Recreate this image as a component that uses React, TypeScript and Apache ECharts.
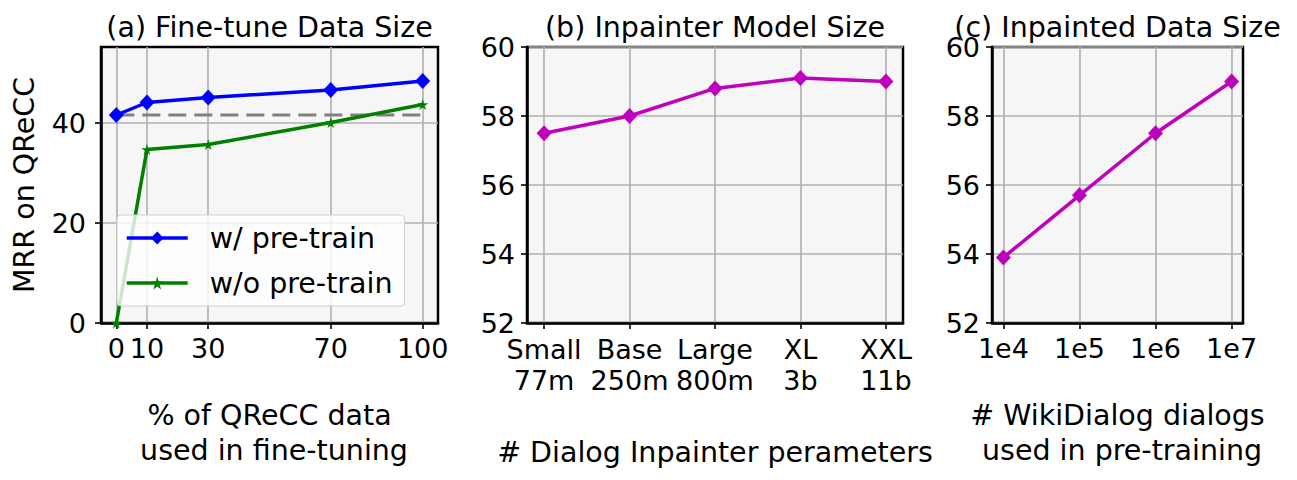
import React, { useEffect, useRef } from "react";
import * as echarts from "echarts";

// (a) Fine-tune data size
const finetunePct = [0, 10, 30, 70, 100];
const withPretrain = [41.6, 44.1, 45.1, 46.6, 48.4];
const withoutPretrain = [0, 34.7, 35.7, 40.1, 43.7];
const baselineLevel = 41.6;
const aYTicks = [0, 20, 40];

// (b) Inpainter model size
const modelSizes = ["Small", "Base", "Large", "XL", "XXL"];
const modelParams = ["77m", "250m", "800m", "3b", "11b"];
const modelMRR = [57.5, 58.0, 58.8, 59.1, 59.0];

// (c) Inpainted data size
const dialogCounts = [1e4, 1e5, 1e6, 1e7];
const dialogLabels = ["1e4", "1e5", "1e6", "1e7"];
const dialogMRR = [53.9, 55.7, 57.5, 59.0];

const FONT = "DejaVu Sans";
const TICK_FS = 27;
const LABEL_FS = 28.5;
const STAR =
  "path://M50,0 L61,35 L98,35 L68,57 L79,91 L50,70 L21,91 L32,57 L2,35 L39,35 Z";

export default function App() {
  const ref = useRef<HTMLDivElement>(null);
  useEffect(() => {
    if (!ref.current) return;
    const chart = echarts.init(ref.current, undefined, { renderer: "svg" });

    const gridBase = {
      show: true,
      backgroundColor: "#f6f6f6",
      borderColor: "#000",
      borderWidth: 2.5,
      containLabel: false,
    };
    const grids = [
      { ...gridBase, left: 101, top: 47, width: 337, height: 276 },
      { ...gridBase, left: 527, top: 47, width: 376, height: 276 },
      { ...gridBase, left: 992, top: 47, width: 251, height: 276 },
    ];

    const axisCommon = {
      axisLine: { show: true, onZero: false, lineStyle: { color: "#000", width: 2.5 } },
      axisTick: { show: true, inside: false, length: 6, lineStyle: { color: "#000", width: 1.6 } },
      splitLine: { show: true, lineStyle: { color: "#b0b0b0", width: 1.6 } },
    };
    const labelCommon = {
      color: "#000",
      fontFamily: FONT,
      fontSize: TICK_FS,
    };

    const modelIdx = modelSizes.map((_, i) => i);
    const dialogExp = dialogCounts.map((c) => Math.log10(c));

    const xAxes = [
      {
        gridIndex: 0,
        type: "value",
        min: -5,
        max: 105,
        ...axisCommon,
        axisTick: { ...axisCommon.axisTick, customValues: finetunePct },
        axisLabel: { ...labelCommon, margin: 12, customValues: finetunePct },
      },
      {
        gridIndex: 1,
        type: "value",
        min: -0.2,
        max: 4.2,
        ...axisCommon,
        axisTick: { ...axisCommon.axisTick, customValues: modelIdx },
        axisLabel: {
          ...labelCommon,
          margin: 11,
          lineHeight: 31,
          customValues: modelIdx,
          formatter: (v: number) => {
            const i = Math.round(v);
            return modelSizes[i] + "\n" + modelParams[i];
          },
        },
      },
      {
        gridIndex: 2,
        type: "value",
        min: 3.85,
        max: 7.15,
        ...axisCommon,
        axisTick: { ...axisCommon.axisTick, customValues: dialogExp },
        axisLabel: {
          ...labelCommon,
          margin: 12,
          customValues: dialogExp,
          formatter: (v: number) => dialogLabels[dialogExp.findIndex((e) => Math.abs(e - v) < 1e-6)] ?? "",
        },
      },
    ];

    const yAxes = [
      {
        gridIndex: 0,
        type: "value",
        min: 0,
        max: 55.2,
        ...axisCommon,
        axisTick: { ...axisCommon.axisTick, customValues: aYTicks },
        axisLabel: { ...labelCommon, margin: 15, customValues: aYTicks },
        name: "MRR on QReCC",
        nameLocation: "middle",
        nameGap: 62,
        nameTextStyle: { color: "#000", fontFamily: FONT, fontSize: LABEL_FS },
      },
      {
        gridIndex: 1,
        type: "value",
        min: 52,
        max: 60,
        interval: 2,
        ...axisCommon,
        axisLabel: { ...labelCommon, margin: 12 },
      },
      {
        gridIndex: 2,
        type: "value",
        min: 52,
        max: 60,
        interval: 2,
        ...axisCommon,
        axisLabel: { ...labelCommon, margin: 12 },
      },
    ];

    const title = (text: string, x: number) => ({
      type: "text",
      x,
      y: 27,
      style: {
        text,
        fill: "#000",
        font: `${LABEL_FS}px "${FONT}"`,
        textAlign: "center",
        textVerticalAlign: "middle",
      },
    });
    const xlabel = (text: string, x: number, y: number) => ({
      type: "text",
      x,
      y,
      style: {
        text,
        fill: "#000",
        font: `${LABEL_FS}px "${FONT}"`,
        lineHeight: 35,
        textAlign: "center",
        textVerticalAlign: "middle",
      },
    });

    chart.setOption({
      animation: false,
      backgroundColor: "#fff",
      grid: grids,
      xAxis: xAxes,
      yAxis: yAxes,
      legend: {
        data: ["w/ pre-train", "w/o pre-train"],
        orient: "vertical",
        left: 117,
        top: 215,
        itemWidth: 61,
        itemHeight: 16,
        itemGap: 15,
        padding: [8, 12, 8, 8],
        backgroundColor: "rgba(255,255,255,0.8)",
        borderColor: "#d0d0d0",
        borderWidth: 1,
        borderRadius: 4,
        lineStyle: { width: 3.5 },
        textStyle: {
          color: "#000",
          fontFamily: FONT,
          fontSize: LABEL_FS,
          lineHeight: 30,
          padding: [0, 0, 0, 17],
        },
      },
      graphic: [
        title("(a) Fine-tune Data Size", 269.5),
        title("(b) Inpainter Model Size", 715),
        title("(c) Inpainted Data Size", 1117.5),
        xlabel("% of QReCC data\n used in fine-tuning", 269.5, 432.5),
        xlabel("# Dialog Inpainter perameters", 715, 452),
        xlabel("# WikiDialog dialogs\n used in pre-training", 1117.5, 432.5),
      ],
      series: [
        {
          type: "line",
          xAxisIndex: 0,
          yAxisIndex: 0,
          data: [
            [finetunePct[0], baselineLevel],
            [finetunePct[finetunePct.length - 1], baselineLevel],
          ],
          showSymbol: false,
          symbol: "none",
          lineStyle: { color: "#808080", width: 3.2, type: [18, 8] },
          z: 1,
        },
        {
          name: "w/ pre-train",
          type: "line",
          xAxisIndex: 0,
          yAxisIndex: 0,
          data: finetunePct.map((x, i) => [x, withPretrain[i]]),
          symbol: "diamond",
          symbolSize: [15, 16],
          itemStyle: { color: "#0000ff" },
          lineStyle: { color: "#0000ff", width: 3.5 },
          z: 3,
        },
        {
          name: "w/o pre-train",
          type: "line",
          xAxisIndex: 0,
          yAxisIndex: 0,
          data: finetunePct.map((x, i) => [x, withoutPretrain[i]]),
          symbol: STAR,
          symbolSize: 11,
          itemStyle: { color: "#008000" },
          lineStyle: { color: "#008000", width: 3.5 },
          z: 3,
        },
        {
          type: "line",
          xAxisIndex: 1,
          yAxisIndex: 1,
          data: modelIdx.map((i) => [i, modelMRR[i]]),
          symbol: "diamond",
          symbolSize: [15, 16],
          itemStyle: { color: "#bf00bf" },
          lineStyle: { color: "#bf00bf", width: 3.5 },
        },
        {
          type: "line",
          xAxisIndex: 2,
          yAxisIndex: 2,
          data: dialogExp.map((e, i) => [e, dialogMRR[i]]),
          symbol: "diamond",
          symbolSize: [15, 16],
          itemStyle: { color: "#bf00bf" },
          lineStyle: { color: "#bf00bf", width: 3.5 },
        },
      ],
    });
    return () => chart.dispose();
  }, []);

  return (
    <div
      ref={ref}
      style={{ position: "fixed", left: 0, top: 0, width: 1297, height: 480 }}
    />
  );
}
